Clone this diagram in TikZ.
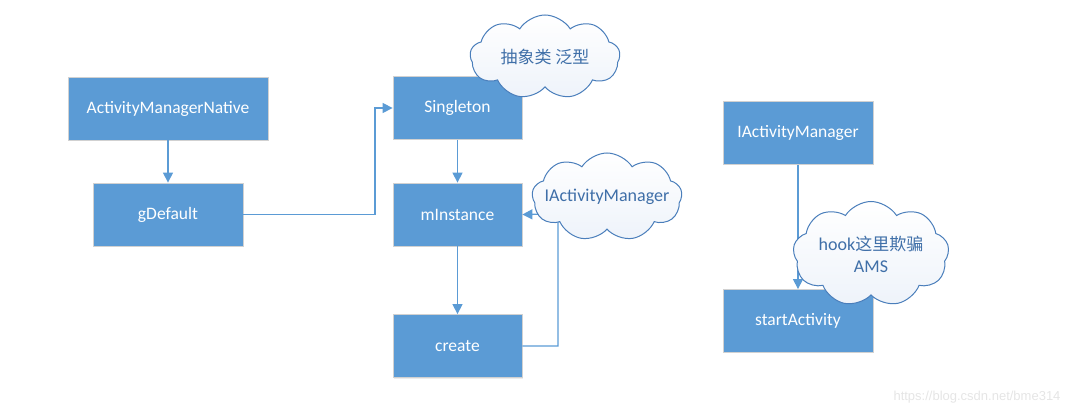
\documentclass[tikz,border=0pt]{standalone}
\usepackage{fontspec}
\setmainfont{Carlito}
\newfontfamily\cjk{Noto Sans CJK SC}
\newfontfamily\wm{Liberation Sans}
\usetikzlibrary{shapes.symbols,arrows.meta,shadows}
\definecolor{boxblue}{HTML}{5B9BD5}
\definecolor{cloudline}{HTML}{4A7EBB}
\definecolor{cloudtext}{HTML}{3F6FA8}
\definecolor{cloudfill}{HTML}{EEF3FA}
\tikzset{
  box/.style={draw=black!18, line width=0.8pt, fill=boxblue, text=white, minimum width=#1, minimum height=63pt, inner sep=0pt, font=\fontsize{17.5}{20}\selectfont, drop shadow={opacity=0.15, shadow xshift=1pt, shadow yshift=-1pt}},
  conn/.style={draw=boxblue, line width=1.3pt, -{Triangle[length=10pt,width=10pt]}},
  bubble/.style={cloud, cloud puffs=9, cloud puff arc=115, aspect=1.8, draw=cloudline, line width=1pt, top color=white, bottom color=cloudfill, text=cloudtext, align=center, inner sep=0pt, font=\fontsize{18}{22}\selectfont}
}
\begin{document}
\begin{tikzpicture}[x=1pt,y=-1pt]
\useasboundingbox (0,0) rectangle (1072,414);
\node[box=200pt] (amn) at (168,108.5) {ActivityManagerNative};
\node[box=150pt] (gd) at (168,214.5) {gDefault};
\node[box=129pt] (sing) at (457.5,108) {Singleton};
\node[box=129pt] (minst) at (457.5,214.5) {mInstance};
\node[box=129pt] (create) at (457.5,346) {create};
\node[box=150pt] (iam) at (798,133) {IActivityManager};
\node[box=150pt] (start) at (798,321) {startActivity};
\coordinate (c1) at (375,108);
\coordinate (c2) at (558,214);
\draw[conn] (amn) -- (gd);
\draw[conn] (gd.east) -| (c1) -- (sing.west);
\draw[conn] (sing) -- (minst);
\draw[conn] (minst) -- (create);
\draw[conn] (create.east) -| (c2) -- (minst.east);
\draw[conn] (iam) -- (start);
\node[bubble, minimum width=150pt, minimum height=84pt] (cl1) at (545,57) {\makebox[0pt]{\cjk\fontsize{17}{20}\selectfont 抽象类 泛型}};
\node[bubble, minimum width=150pt, minimum height=88pt] (cl2) at (607,197) {\makebox[0pt]{IActivityManager}};
\node[bubble, minimum width=156pt, minimum height=94pt] (cl3) at (871,254) {hook{\cjk\fontsize{17}{20}\selectfont 这里欺骗}\\AMS};
\node[text=black!10, font=\wm\fontsize{13}{15}\selectfont, anchor=east] (wm) at (1064,397) {https://blog.csdn.net/bme314};
\end{tikzpicture}
\end{document}
